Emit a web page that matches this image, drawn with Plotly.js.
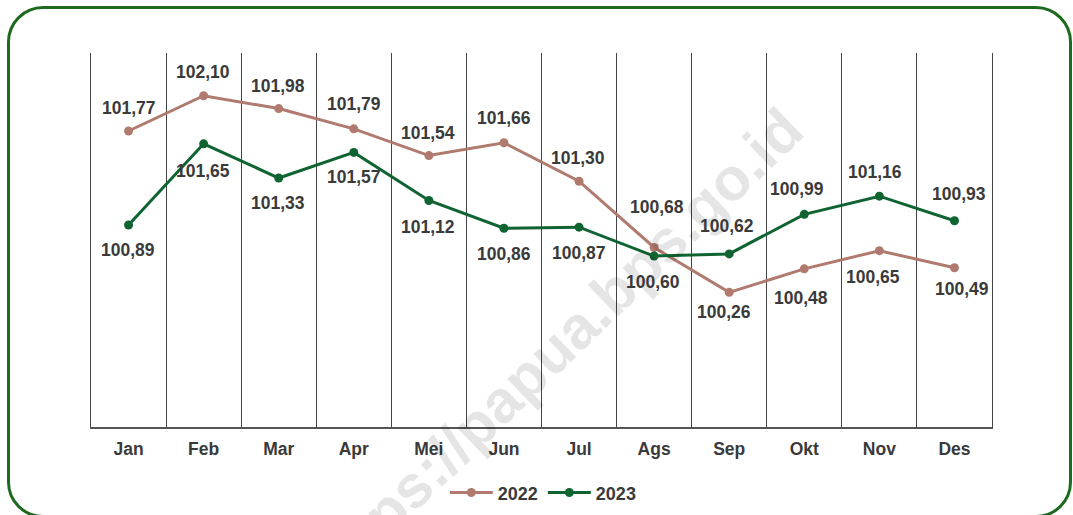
<!DOCTYPE html>
<html>
<head>
<meta charset="utf-8">
<script src="https://cdn.plot.ly/plotly-3.0.1.min.js"></script>
<style>
  html, body { margin: 0; padding: 0; background: #ffffff; }
  #wrap { position: relative; width: 1073px; height: 515px; overflow: hidden; }
  #frame { position: absolute; left: 7px; top: 6px; width: 1065px; height: 512px;
           box-sizing: border-box; border: 3px solid #1d6a1f; border-radius: 36px; }
  #chart { position: absolute; left: 0; top: 0; width: 1073px; height: 515px; }
</style>
</head>
<body>
<div id="wrap">
  <div id="frame"></div>
  <div id="chart"></div>
</div>
<script>
const months = ['Jan','Feb','Mar','Apr','Mei','Jun','Jul','Ags','Sep','Okt','Nov','Des'];
const y2022 = [101.77,102.10,101.98,101.79,101.54,101.66,101.30,100.68,100.26,100.48,100.65,100.49];
const y2023 = [100.89,101.65,101.33,101.57,101.12,100.86,100.87,100.60,100.62,100.99,101.16,100.93];
const seriesNames = ['2022','2023'];

// label offsets in pixels [xshift, yshift] (style only)
const off2022 = [[0,23],[-1,24],[-1,23],[0,25],[-1,23],[0,25],[-1,23],[3,40],[-5,-20],[-3,-29],[-6,-26],[8,-21]];
const off2023 = [[-1,-25],[-1,-27],[-1,-25],[0,-25],[-1,-27],[0,-26],[0,-26],[-1,-26],[-2,28],[-7,25],[-4,24],[5,27]];

const c2022 = '#b07a6e';
const c2023 = '#0f6432';
const xIdx = months.map((m, i) => i);
const fmt = v => v.toFixed(2).replace('.', ',');
const FAM = 'Liberation Sans, Arial, sans-serif';

const traces = [
  { x: xIdx, y: y2022, name: seriesNames[0], type: 'scatter', mode: 'lines+markers',
    line: { color: c2022, width: 3 }, marker: { color: c2022, size: 9 } },
  { x: xIdx, y: y2023, name: seriesNames[1], type: 'scatter', mode: 'lines+markers',
    line: { color: c2023, width: 3 }, marker: { color: c2023, size: 9 } }
];

const labelFont = { family: FAM, size: 17.5, color: '#3a3a3a', weight: 'bold' };
const annotations = [];
annotations.push({
  xref: 'paper', yref: 'paper', x: 0.515, y: 0.211, xanchor: 'center', yanchor: 'middle',
  text: 'https://papua.bps.go.id', showarrow: false, textangle: -44,
  font: { family: FAM, size: 60, color: 'rgba(0,0,0,0.10)', weight: 'bold' }
});
y2022.forEach((v, i) => annotations.push({
  x: i, y: v, xref: 'x', yref: 'y', text: fmt(v), showarrow: false,
  xanchor: 'center', yanchor: 'middle',
  xshift: off2022[i][0], yshift: off2022[i][1], font: labelFont
}));
y2023.forEach((v, i) => annotations.push({
  x: i, y: v, xref: 'x', yref: 'y', text: fmt(v), showarrow: false,
  xanchor: 'center', yanchor: 'middle',
  xshift: off2023[i][0], yshift: off2023[i][1], font: labelFont
}));

const boundaries = months.map((m, i) => i - 0.5).concat([months.length - 0.5]);

const layout = {
  width: 1073, height: 515,
  margin: { l: 91, r: 81, t: 53, b: 88, pad: 0, autoexpand: false },
  paper_bgcolor: 'rgba(0,0,0,0)', plot_bgcolor: 'rgba(0,0,0,0)',
  showlegend: true,
  legend: { orientation: 'h', x: 0.502, xanchor: 'center', y: -0.176, yanchor: 'middle',
            font: { family: FAM, size: 18, color: '#3a3a3a', weight: 'bold' },
            itemwidth: 43, itemclick: false, bgcolor: 'rgba(0,0,0,0)' },
  xaxis: {
    range: [-0.5, months.length - 0.5], tickmode: 'array', tickvals: xIdx, ticktext: months,
    showgrid: false, zeroline: false, ticks: '', showline: true, linecolor: '#555', linewidth: 2,
    ticklabelstandoff: 5, automargin: false,
    tickfont: { family: FAM, size: 17.5, color: '#3a3a3a', weight: 'bold' },
    minor: { tickmode: 'array', tickvals: boundaries, showgrid: true, gridcolor: '#444', gridwidth: 1, ticks: '' },
    fixedrange: true
  },
  yaxis: {
    range: [99, 102.5], showticklabels: false, showgrid: false, zeroline: false, ticks: '',
    showline: true, mirror: true, linecolor: '#444', linewidth: 1, fixedrange: true, automargin: false
  },
  annotations: annotations
};

Plotly.newPlot('chart', traces, layout, { displayModeBar: false, staticPlot: true });
</script>
</body>
</html>
